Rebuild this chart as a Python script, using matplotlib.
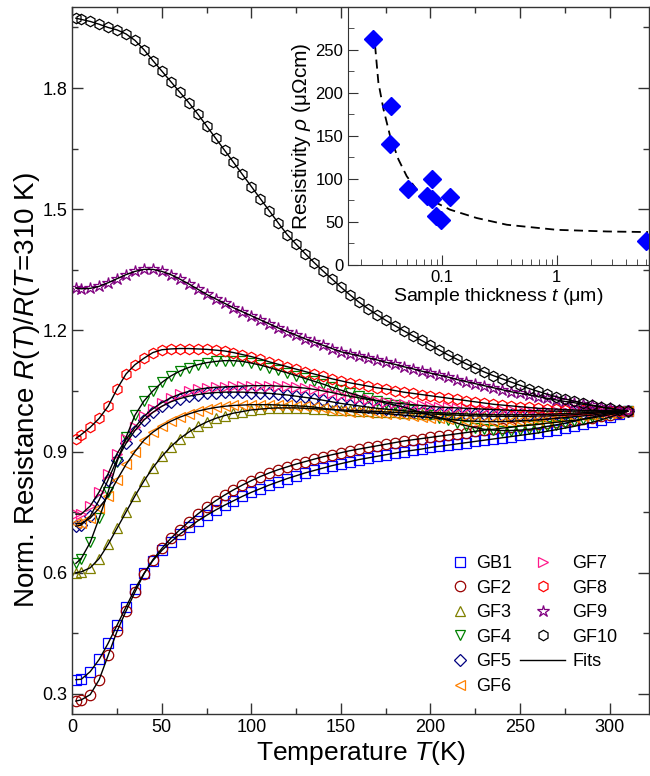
import matplotlib
matplotlib.use("Agg")
import matplotlib.pyplot as plt
from matplotlib.lines import Line2D
from matplotlib.ticker import MultipleLocator, FixedLocator, FuncFormatter, NullFormatter, LogLocator

plt.rcParams['font.family'] = ['Liberation Sans', 'DejaVu Sans']
plt.rcParams['mathtext.fontset'] = 'custom'
plt.rcParams['mathtext.rm'] = 'Liberation Sans'
plt.rcParams['mathtext.it'] = 'Liberation Sans:italic'
plt.rcParams['mathtext.bf'] = 'Liberation Sans:bold'

# ---- temperature grid (K) ----
temperature = [2] + list(range(5, 311, 5))

# ---- normalized resistance R(T)/R(310 K) ----
gb1 = [0.335, 0.336, 0.355, 0.385, 0.425, 0.47, 0.515, 0.56, 0.598, 0.63, 0.655, 0.676, 0.695,
       0.712, 0.728, 0.742, 0.755, 0.767, 0.778, 0.789, 0.799, 0.808, 0.817, 0.825, 0.833, 0.84,
       0.847, 0.853, 0.859, 0.865, 0.87, 0.875, 0.88, 0.884, 0.888, 0.892, 0.896, 0.9, 0.903,
       0.906, 0.91, 0.913, 0.916, 0.919, 0.922, 0.925, 0.928, 0.931, 0.934, 0.937, 0.94, 0.943,
       0.946, 0.95, 0.954, 0.958, 0.962, 0.967, 0.972, 0.978, 0.985, 0.992, 1.0]
gf2 = [0.282, 0.285, 0.298, 0.335, 0.395, 0.455, 0.505, 0.552, 0.597, 0.632, 0.66, 0.685, 0.706,
       0.726, 0.745, 0.762, 0.778, 0.792, 0.805, 0.817, 0.828, 0.838, 0.847, 0.855, 0.862, 0.869,
       0.875, 0.881, 0.887, 0.892, 0.897, 0.902, 0.906, 0.91, 0.914, 0.918, 0.922, 0.926, 0.929,
       0.932, 0.935, 0.938, 0.941, 0.944, 0.947, 0.95, 0.953, 0.955, 0.958, 0.96, 0.963, 0.965,
       0.967, 0.97, 0.972, 0.975, 0.977, 0.98, 0.983, 0.987, 0.991, 0.995, 1.0]
gf3 = [0.60, 0.602, 0.612, 0.635, 0.67, 0.71, 0.75, 0.79, 0.827, 0.86, 0.888, 0.912, 0.932,
       0.948, 0.962, 0.973, 0.982, 0.989, 0.995, 0.999, 1.003, 1.005, 1.007, 1.008, 1.008, 1.008,
       1.007, 1.006, 1.005, 1.004, 1.003, 1.002, 1.001, 1.0, 0.999, 0.998, 0.997, 0.996, 0.995,
       0.994, 0.993, 0.992, 0.991, 0.99, 0.989, 0.988, 0.988, 0.987, 0.987, 0.987, 0.987, 0.987,
       0.988, 0.988, 0.989, 0.99, 0.991, 0.993, 0.994, 0.996, 0.998, 0.999, 1.0]
gf4 = [0.623, 0.635, 0.675, 0.735, 0.80, 0.875, 0.935, 0.99, 1.025, 1.05, 1.071, 1.087, 1.099,
       1.108, 1.115, 1.12, 1.123, 1.125, 1.125, 1.123, 1.119, 1.114, 1.108, 1.101, 1.095, 1.088,
       1.081, 1.074, 1.067, 1.059, 1.052, 1.045, 1.038, 1.032, 1.026, 1.02, 1.015, 1.01, 1.003,
       0.996, 0.99, 0.984, 0.977, 0.97, 0.964, 0.959, 0.955, 0.953, 0.952, 0.952, 0.953, 0.955,
       0.958, 0.962, 0.966, 0.97, 0.975, 0.98, 0.985, 0.99, 0.994, 0.997, 1.0]
gf5 = [0.715, 0.718, 0.74, 0.78, 0.83, 0.88, 0.92, 0.952, 0.978, 0.997, 1.012, 1.023, 1.031,
       1.037, 1.041, 1.044, 1.046, 1.047, 1.047, 1.047, 1.046, 1.045, 1.044, 1.042, 1.04, 1.037,
       1.034, 1.031, 1.027, 1.023, 1.019, 1.016, 1.013, 1.01, 1.007, 1.005, 1.003, 1.001, 0.999,
       0.998, 0.997, 0.996, 0.995, 0.994, 0.993, 0.992, 0.992, 0.991, 0.991, 0.991, 0.991, 0.991,
       0.992, 0.992, 0.993, 0.994, 0.995, 0.996, 0.997, 0.998, 0.999, 0.999, 1.0]
gf6 = [0.722, 0.722, 0.735, 0.76, 0.79, 0.83, 0.868, 0.90, 0.928, 0.948, 0.963, 0.975, 0.985,
       0.993, 1.0, 1.005, 1.009, 1.012, 1.014, 1.015, 1.016, 1.016, 1.016, 1.015, 1.014, 1.013,
       1.012, 1.01, 1.007, 1.004, 1.001, 0.999, 0.997, 0.996, 0.995, 0.994, 0.992, 0.99, 0.988,
       0.986, 0.984, 0.982, 0.98, 0.978, 0.976, 0.975, 0.974, 0.974, 0.974, 0.975, 0.976, 0.977,
       0.978, 0.98, 0.982, 0.984, 0.986, 0.988, 0.99, 0.993, 0.996, 0.998, 1.0]
gf7 = [0.745, 0.745, 0.765, 0.80, 0.845, 0.895, 0.93, 0.96, 0.987, 1.006, 1.021, 1.033, 1.042,
       1.049, 1.054, 1.057, 1.059, 1.06, 1.061, 1.062, 1.063, 1.063, 1.063, 1.062, 1.061, 1.059,
       1.057, 1.054, 1.05, 1.046, 1.041, 1.037, 1.033, 1.029, 1.026, 1.023, 1.02, 1.018, 1.016,
       1.014, 1.012, 1.01, 1.009, 1.008, 1.007, 1.006, 1.005, 1.004, 1.003, 1.002, 1.002, 1.001,
       1.001, 1.0, 1.0, 1.0, 1.0, 1.0, 1.0, 1.0, 1.0, 1.0, 1.0]
gf8 = [0.932, 0.942, 0.96, 0.982, 1.012, 1.055, 1.092, 1.115, 1.131, 1.145, 1.152, 1.154, 1.155,
       1.155, 1.154, 1.153, 1.151, 1.149, 1.145, 1.14, 1.135, 1.129, 1.122, 1.116, 1.11, 1.104,
       1.098, 1.092, 1.086, 1.08, 1.075, 1.07, 1.066, 1.062, 1.058, 1.055, 1.051, 1.047, 1.044,
       1.041, 1.038, 1.035, 1.032, 1.029, 1.026, 1.023, 1.02, 1.017, 1.015, 1.013, 1.011, 1.009,
       1.007, 1.006, 1.005, 1.004, 1.003, 1.002, 1.002, 1.001, 1.001, 1.0, 1.0]
gf9 = [1.305, 1.303, 1.304, 1.309, 1.318, 1.328, 1.338, 1.346, 1.351, 1.351, 1.346, 1.338, 1.327,
       1.315, 1.302, 1.289, 1.278, 1.267, 1.256, 1.246, 1.236, 1.226, 1.216, 1.206, 1.197, 1.188,
       1.179, 1.171, 1.163, 1.155, 1.147, 1.142, 1.137, 1.132, 1.127, 1.121, 1.116, 1.11, 1.105,
       1.099, 1.094, 1.089, 1.084, 1.078, 1.073, 1.068, 1.063, 1.058, 1.053, 1.048, 1.044, 1.04,
       1.036, 1.032, 1.028, 1.024, 1.021, 1.017, 1.014, 1.01, 1.007, 1.003, 1.0]
gf10 = [1.973, 1.970, 1.965, 1.958, 1.950, 1.944, 1.934, 1.918, 1.895, 1.868, 1.842, 1.816, 1.790,
        1.764, 1.736, 1.706, 1.676, 1.646, 1.616, 1.586, 1.556, 1.526, 1.496, 1.466, 1.437, 1.413,
        1.39, 1.368, 1.347, 1.327, 1.307, 1.288, 1.27, 1.254, 1.239, 1.225, 1.212, 1.199, 1.187,
        1.175, 1.163, 1.151, 1.139, 1.128, 1.117, 1.107, 1.097, 1.088, 1.08, 1.072, 1.064, 1.056,
        1.049, 1.042, 1.036, 1.03, 1.025, 1.02, 1.015, 1.011, 1.007, 1.003, 1.0]

series_names = ['GB1', 'GF2', 'GF3', 'GF4', 'GF5', 'GF6', 'GF7', 'GF8', 'GF9', 'GF10']
series_values = [gb1, gf2, gf3, gf4, gf5, gf6, gf7, gf8, gf9, gf10]
series_colors = ['#0000ff', '#990000', '#808000', '#008000', '#000080',
                 '#ff8000', '#ff1a8c', '#ff0000', '#800080', '#000000']
series_markers = ['s', 'o', '^', 'v', 'D', '<', '>', 'h', '*', 'h']

# ---- inset: resistivity vs thickness ----
thickness_um = [0.0254, 0.0362, 0.0355, 0.0506, 0.0741, 0.0818, 0.083, 0.118, 0.0887, 0.098, 6.0]
resistivity = [262, 184, 140, 88, 80, 100, 77, 79, 57, 52, 28]
fit_thickness = [0.0263, 0.0281, 0.0311, 0.0355, 0.042, 0.0496, 0.0606, 0.0791, 0.118,
                 0.2015, 0.368, 1.0, 2.73, 6.2]
fit_resistivity = [255, 212, 181, 150, 122.5, 103, 87.5, 75.8, 64.2, 54.5, 46.7, 40.8, 38.9, 38.2]

W, H = 650, 776
fig = plt.figure(figsize=(W / 100, H / 100), dpi=100)
ax = fig.add_axes([72.3 / W, 62 / H, (649 - 72.3) / W, (714 - 7.3) / H])

handles = []
for name, vals, col, mk in zip(series_names, series_values, series_colors, series_markers):
    ms = 9 if mk == '*' else (6 if mk == 'D' else 7.5)
    h, = ax.plot(temperature, vals, linestyle='none', marker=mk, ms=ms, mfc='none',
                 mec=col, mew=0.9, label=name, zorder=2)
    handles.append(h)
for vals in series_values:
    ax.plot(temperature, vals, color='black', lw=1.0, zorder=3)
fit_handle = Line2D([], [], color='black', lw=1.0)

ax.set_xlim(0, 322)
ax.set_ylim(0.25, 2.0)
ax.xaxis.set_major_locator(MultipleLocator(50))
ax.xaxis.set_minor_locator(MultipleLocator(25))
ax.yaxis.set_major_locator(MultipleLocator(0.3))
ax.yaxis.set_minor_locator(MultipleLocator(0.15))
ax.yaxis.set_major_formatter(FuncFormatter(lambda v, p: f'{v:.1f}'))
ax.tick_params(which='both', direction='in', top=True, right=True, colors='#333333',
               labelcolor='black', labelsize=13)
ax.tick_params(which='major', length=8, width=1.0)
ax.tick_params(which='minor', length=4, width=1.0)
for s in ax.spines.values():
    s.set_color('#333333')
    s.set_linewidth(1.0)
ax.set_xlabel('Temperature $T$(K)', fontsize=19, labelpad=2)
ax.set_ylabel('Norm. Resistance $R$($T$)/$R$($T$=310 K)', fontsize=20)
ax.yaxis.set_label_coords(-0.052, 1 - (390 - 7.3) / (714 - 7.3))

# legend in two blocks: symbols on the left, symbols plus the fit line on the right
common = dict(frameon=False, loc='upper left', bbox_transform=fig.transFigure, fontsize=13,
              handletextpad=0.4, labelspacing=0.42, borderpad=0, borderaxespad=0)
leg1 = ax.legend(handles[:6], series_names[:6], bbox_to_anchor=(451 / W, 1 - 555 / H),
                 handlelength=1.0, **common)
ax.add_artist(leg1)
ax.legend(handles[6:] + [fit_handle], series_names[6:] + ['Fits'],
          bbox_to_anchor=(520 / W, 1 - 555 / H), handlelength=2.5, **common)

# ---- inset ----
ins = fig.add_axes([348.3 / W, (776 - 265) / H, (648 - 348.3) / W, (265 - 7.3) / H])
ins.patch.set_alpha(0)
ins.set_xscale('log')
ins.set_xlim(0.0154, 6.2)
ins.set_ylim(0, 299)
ins.plot(fit_thickness, fit_resistivity, color='black', ls=(0, (5, 3)), lw=1.3, zorder=2)
ins.plot(thickness_um, resistivity, linestyle='none', marker='D', ms=9, color='#0000ff', zorder=3)
ins.spines['top'].set_visible(False)
ins.spines['right'].set_visible(False)
for s in ('left', 'bottom'):
    ins.spines[s].set_color('#333333')
ins.yaxis.set_major_locator(MultipleLocator(50))
ins.yaxis.set_minor_locator(MultipleLocator(25))
ins.xaxis.set_major_locator(FixedLocator([0.1, 1]))
ins.xaxis.set_major_formatter(FuncFormatter(lambda v, p: '0.1' if v < 0.5 else '1'))
ins.xaxis.set_minor_locator(LogLocator(base=10, subs=range(2, 10), numticks=20))
ins.xaxis.set_minor_formatter(NullFormatter())
ins.tick_params(which='both', direction='in', colors='#333333', labelcolor='black', labelsize=12)
ins.tick_params(which='major', length=7)
ins.tick_params(which='minor', length=4)
ins.set_xlabel('Sample thickness $t$ (μm)', fontsize=14, labelpad=1)
ins.set_ylabel('Resistivity $\\rho$ (μΩcm)', fontsize=15, labelpad=2)

fig.savefig('out.png', dpi=100)
